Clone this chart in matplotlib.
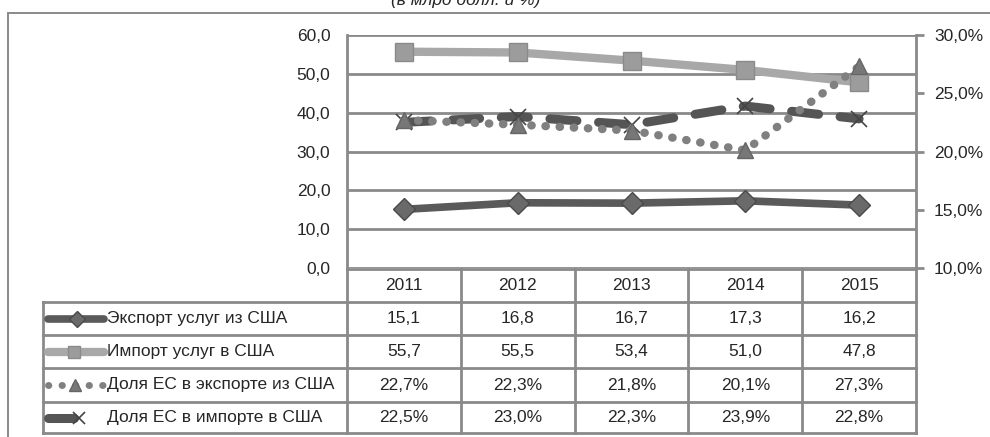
import matplotlib
matplotlib.use("Agg")
import matplotlib.pyplot as plt
from matplotlib.lines import Line2D
from matplotlib.transforms import blended_transform_factory
from matplotlib import font_manager

# ---------------- data ----------------
years = ["2011", "2012", "2013", "2014", "2015"]
export_usd = [15.1, 16.8, 16.7, 17.3, 16.2]
import_usd = [55.7, 55.5, 53.4, 51.0, 47.8]
eu_share_export = [22.7, 22.3, 21.8, 20.1, 27.3]
eu_share_import = [22.5, 23.0, 22.3, 23.9, 22.8]
series_names = ["Экспорт услуг из США", "Импорт услуг в США",
                "Доля ЕС в экспорте из США", "Доля ЕС в импорте в США"]
title_text = "(в млрд долл. и %)"
left_ticks = [0, 10, 20, 30, 40, 50, 60]
right_ticks = [10, 15, 20, 25, 30]

# ---------------- style ----------------
avail = {f.name for f in font_manager.fontManager.ttflist}
fam = [f for f in ["Liberation Sans Narrow", "Liberation Sans", "DejaVu Sans"] if f in avail]
plt.rcParams['font.family'] = fam
FS = 12.5
TXT = "#262626"
GRID = "#8a8a8a"

W, H = 990, 437
fig = plt.figure(figsize=(W / 100, H / 100), dpi=100)

def px(x0, y0, x1, y1):
    return [x0 / W, 1 - y1 / H, (x1 - x0) / W, (y1 - y0) / H]

# overlay axes in pixel coordinates for frame / table
tab = fig.add_axes([0, 0, 1, 1], zorder=0)
tab.set_xlim(0, W)
tab.set_ylim(H, 0)
tab.axis("off")

ax = fig.add_axes(px(347, 35, 916, 268), zorder=2)
ax.patch.set_alpha(0)
ax2 = ax.twinx()
ax2.patch.set_alpha(0)

x = list(range(len(years)))
ax.set_xlim(-0.5, len(years) - 0.5)
ax.set_ylim(0, 60)
ax2.set_ylim(10, 30)

# gridlines
for t in left_ticks:
    ax.axhline(t, color=GRID, lw=2.0, zorder=1)

for a in (ax, ax2):
    for s in a.spines.values():
        s.set_visible(False)
ax.spines['left'].set_visible(True)
ax.spines['left'].set_color(GRID)
ax.spines['left'].set_linewidth(2.0)
ax2.spines['right'].set_visible(True)
ax2.spines['right'].set_color(GRID)
ax2.spines['right'].set_linewidth(2.0)

ax.set_xticks([])
ax.set_yticks(left_ticks)
ax.set_yticklabels([f"{t:.1f}".replace(".", ",") for t in left_ticks], fontsize=FS, color=TXT)
ax.tick_params(axis='y', length=0, pad=12)
ax2.set_yticks(right_ticks)
ax2.set_yticklabels([f"{t:.1f}%".replace(".", ",") for t in right_ticks], fontsize=FS, color=TXT)
ax2.tick_params(axis='y', length=6, width=2, color=GRID, direction='out', pad=7)

# series
C_EXP = "#5a5a5a"
C_IMP = "#a8a8a8"
C_SEX = "#808080"
C_SIM = "#555555"

ax.plot(x, export_usd, color=C_EXP, lw=5.5, marker='D', ms=11, mfc="#6a6a6a", mec="#4a4a4a",
        solid_capstyle='round', zorder=4)
ax.plot(x, import_usd, color=C_IMP, lw=6, marker='s', ms=13, mfc="#9c9c9c", mec="#8a8a8a", zorder=4)
ax2.plot(x, eu_share_import, color=C_SIM, lw=6.5, dashes=(3.0, 2.4), dash_capstyle='round',
         marker='x', ms=12, mew=1.2, mec="#444444", zorder=3)
ax2.plot(x, eu_share_export, color=C_SEX, lw=6, linestyle=(0, (0.05, 1.65)), dash_capstyle='round',
         marker='^', ms=12, mfc="#777777", mec="#666666", zorder=3)

# ---------------- frame ----------------
tab.add_line(Line2D([8, W], [13, 13], color="#8a8a8a", lw=1.4))
tab.add_line(Line2D([8, 8], [13, H], color="#8a8a8a", lw=1.4))
fig.text(466 / W, 1.0, title_text, ha='center', va='center', fontsize=FS,
         style='italic', color=TXT)

# ---------------- data table ----------------
row_y = [269, 302, 335, 368, 402, 433]
col_left, col_right, leg_left = 347, 916, 43
bt = blended_transform_factory(ax.transData, tab.transData)
LW = 2.0
tab.add_line(Line2D([col_left, col_right], [row_y[0], row_y[0]], color=GRID, lw=LW))
for yy in row_y[1:]:
    tab.add_line(Line2D([leg_left, col_right], [yy, yy], color=GRID, lw=LW))
tab.add_line(Line2D([leg_left, leg_left], [row_y[1], row_y[-1]], color=GRID, lw=LW))
tab.add_line(Line2D([col_left, col_left], [row_y[0], row_y[-1]], color=GRID, lw=LW))
for i in range(len(years)):
    tab.add_line(Line2D([i + 0.5, i + 0.5], [row_y[0], row_y[-1]], color=GRID, lw=LW,
                        transform=bt))

def cy(r):
    return (row_y[r] + row_y[r + 1]) / 2

for i, yr in enumerate(years):
    tab.text(i, cy(0), yr, transform=bt, ha='center', va='center', fontsize=FS, color=TXT)

rows = [
    [f"{v:.1f}".replace(".", ",") for v in export_usd],
    [f"{v:.1f}".replace(".", ",") for v in import_usd],
    [f"{v:.1f}%".replace(".", ",") for v in eu_share_export],
    [f"{v:.1f}%".replace(".", ",") for v in eu_share_import],
]
for r, vals in enumerate(rows):
    for i, s in enumerate(vals):
        tab.text(i, cy(r + 1), s, transform=bt, ha='center', va='center', fontsize=FS, color=TXT)
    tab.text(107, cy(r + 1), series_names[r], ha='left', va='center', fontsize=FS, color=TXT)

# legend keys
k0, k1 = 48, 104
y = cy(1)
tab.add_line(Line2D([k0, k1], [y, y], color=C_EXP, lw=5.5, solid_capstyle='round'))
tab.add_line(Line2D([77], [y], marker='D', ms=8, mfc="#6a6a6a", mec="#4a4a4a", ls='none'))
y = cy(2)
tab.add_line(Line2D([k0, k1], [y, y], color=C_IMP, lw=6, solid_capstyle='round'))
tab.add_line(Line2D([74], [y], marker='s', ms=9, mfc="#9c9c9c", mec="#8a8a8a", ls='none'))
y = cy(3)
tab.add_line(Line2D([k0, k1], [y, y], color=C_SEX, lw=5, linestyle=(0, (0.05, 1.9)),
                    dash_capstyle='round'))
tab.add_line(Line2D([75], [y], marker='^', ms=9, mfc="#777777", mec="#666666", ls='none'))
y = cy(4)
tab.add_line(Line2D([k0, 74], [y, y], color=C_SIM, lw=6.5, solid_capstyle='round'))
tab.add_line(Line2D([79], [y], marker='x', ms=8, mew=1.2, mec="#444444", ls='none'))

fig.savefig("out.png", dpi=100)
